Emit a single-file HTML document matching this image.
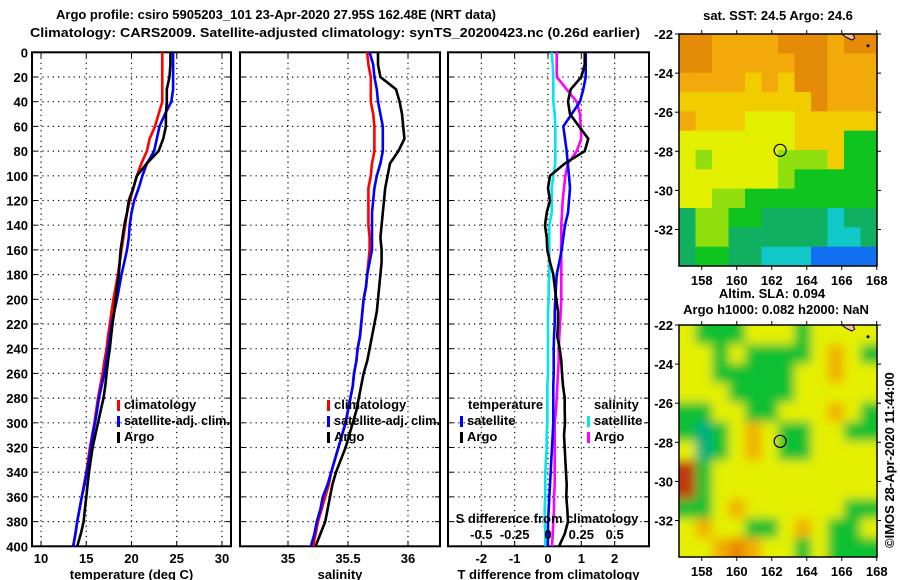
<!DOCTYPE html>
<html><head><meta charset="utf-8"><style>
html,body{margin:0;padding:0;background:#fff;width:900px;height:580px;overflow:hidden}
svg text{font-family:"Liberation Sans",sans-serif;font-weight:bold;font-size:13px;fill:#000}
</style></head><body>
<svg id="chart" width="900" height="580" viewBox="0 0 900 580" xmlns="http://www.w3.org/2000/svg">
<defs>
<filter id="blur" x="0" y="0" width="1" height="1"><feGaussianBlur stdDeviation="5"/></filter>
<clipPath id="clipTop"><rect x="679" y="34" width="198" height="233"/></clipPath>
<clipPath id="clipBot"><rect x="679" y="325" width="198" height="232"/></clipPath>
</defs>
<text x="56" y="19" textLength="440" lengthAdjust="spacingAndGlyphs">Argo profile: csiro 5905203_101 23-Apr-2020 27.95S 162.48E (NRT data)</text>
<text x="30" y="37" textLength="610" lengthAdjust="spacingAndGlyphs">Climatology: CARS2009. Satellite-adjusted climatology: synTS_20200423.nc (0.26d earlier)</text>
<g id="plots"></g>
<g id="maps"></g>
</svg>
<script>
const depths=[0,10,20,30,40,50,60,70,80,90,100,110,120,130,140,150,160,170,180,190,200,210,220,230,240,250,260,270,280,290,300,310,320,330,340,350,360,370,380,390,400];
const tClim=[23.4,23.4,23.4,23.4,23.4,23.0,22.6,22.0,21.7,21.1,20.6,20.2,19.8,19.5,19.3,19.1,18.9,18.7,18.5,18.25,18.0,17.8,17.6,17.4,17.25,17.0,16.8,16.55,16.3,16.1,15.9,15.65,15.4,15.2,15.0,14.75,14.5,14.25,14.0,13.8,13.55];
const tSat=[24.6,24.6,24.6,24.6,24.4,23.7,23.1,22.8,22.5,21.7,21.2,20.8,20.3,20.0,19.8,19.7,19.5,19.2,18.9,18.65,18.4,18.1,17.8,17.6,17.4,17.2,17.0,16.7,16.4,16.2,15.96,15.7,15.5,15.3,15.05,14.8,14.5,14.25,14.0,13.8,13.55];
const tArgo=[24.3,24.3,24.2,23.9,23.9,23.8,23.8,23.5,23.0,21.7,20.6,20.2,19.7,19.5,19.2,19.0,18.8,18.7,18.6,18.4,18.25,18.1,17.9,17.75,17.6,17.4,17.25,17.1,16.9,16.6,16.3,16.0,15.7,15.5,15.3,15.15,15.0,14.85,14.7,14.4,14.0];
const sClim=[35.66,35.67,35.69,35.69,35.69,35.71,35.72,35.72,35.72,35.70,35.69,35.67,35.67,35.67,35.67,35.68,35.68,35.67,35.66,35.65,35.63,35.62,35.61,35.6,35.58,35.57,35.55,35.54,35.52,35.5,35.48,35.45,35.42,35.39,35.36,35.34,35.31,35.28,35.25,35.23,35.21];
const sSat=[35.68,35.71,35.72,35.74,35.75,35.77,35.79,35.79,35.79,35.77,35.74,35.72,35.71,35.70,35.70,35.70,35.70,35.68,35.66,35.65,35.63,35.62,35.61,35.6,35.58,35.57,35.55,35.54,35.52,35.5,35.48,35.45,35.42,35.39,35.36,35.33,35.29,35.27,35.24,35.22,35.19];
const sArgo=[35.75,35.75,35.77,35.9,35.93,35.95,35.96,35.97,35.92,35.85,35.83,35.81,35.80,35.79,35.78,35.77,35.78,35.78,35.77,35.76,35.75,35.74,35.72,35.7,35.68,35.66,35.63,35.61,35.59,35.57,35.54,35.51,35.48,35.44,35.40,35.37,35.35,35.33,35.31,35.27,35.23];
const dTSat=[1.13,1.13,1.13,1.06,0.96,0.71,0.46,0.51,0.56,0.59,0.63,0.66,0.63,0.6,0.51,0.46,0.41,0.34,0.26,0.24,0.22,0.2,0.2,0.18,0.17,0.17,0.17,0.16,0.16,0.16,0.16,0.14,0.12,0.1,0.08,0.06,0.04,0.02,0.0,0.0,-0.005];
const dTArgo=[1.1,1.1,1.0,0.68,0.6,0.66,0.93,1.21,1.1,0.51,0.06,0.0,0.06,-0.04,-0.09,-0.04,-0.02,0.06,0.16,0.2,0.25,0.3,0.3,0.28,0.35,0.4,0.42,0.45,0.5,0.5,0.51,0.48,0.5,0.52,0.54,0.56,0.55,0.58,0.6,0.5,0.33];
const dSSat=[0.028,0.035,0.04,0.04,0.04,0.05,0.055,0.055,0.055,0.055,0.04,0.028,0.028,0.028,0.01,0.01,0.01,0.01,0.01,0.005,0.005,0,0,0,0,0,0,-0.005,-0.005,-0.005,-0.005,-0.01,-0.01,-0.015,-0.02,-0.02,-0.02,-0.025,-0.025,-0.02,-0.02];
const dSArgo=[0.065,0.065,0.066,0.14,0.215,0.24,0.245,0.25,0.215,0.15,0.13,0.12,0.11,0.105,0.1,0.1,0.098,0.1,0.1,0.1,0.1,0.095,0.09,0.085,0.08,0.08,0.075,0.07,0.065,0.06,0.05,0.05,0.05,0.05,0.05,0.05,0.045,0.045,0.04,0.035,0.03];
const depthTicks=[0,20,40,60,80,100,120,140,160,180,200,220,240,260,280,300,320,340,360,380,400];
const tTicks=[10,15,20,25,30];
const sTicks=[35,35.5,36];
const sTickLabels=["35","35.5","36"];
const dtTicks=[-2,-1,0,1,2];
const dsTicks=[-0.5,-0.25,0,0.25,0.5];
const dsTickLabels=["-0.5","-0.25","0","0.25","0.5"];
const latTicks=[-22,-24,-26,-28,-30,-32];
const lonTicks=[158,160,162,164,166,168];
const sstRows=["OOooooOOOoOO","OOoooooOOooo","ooooyoyOOooo","yyyyyyyyOooo","oyyyYYYyyyyy","YYYYYYYyyyGG","YgYYYYgggyGG","YYYYYYgGGGGG","YYggGGGGGGGG","TggGGTTTTCTT","TggTTTTTTCCT","TGGTTCCCBBBB"];
const slaRows=["YGGGYYYGYYYY","YYGYGGGGYoYG","YYGGGGGYYoYY","YYYGGGGYYYYY","GGYYGGYYYoYG","GTGYoYGGYYGG","YTGYoYGGYYYY","RGYYYYYYYYYY","RGYYYYYYYYYY","GGYoYYYYYYGG","YoYYGGYoYGGY","YYoOoYYGYGGG"];

const NS="http://www.w3.org/2000/svg";
function mk(tag,attrs,parent){const e=document.createElementNS(NS,tag);for(const k in attrs)e.setAttribute(k,attrs[k]);parent.appendChild(e);return e;}
const plots=document.getElementById('plots');
const Y0=52.3,Y1=546.3;
const yD=d=>Y0+(Y1-Y0)*d/400;

function panel(name,x0,x1,vmin,vmax,ticks,tickLabels,xTitle){
  const g=mk('g',{},plots);
  
  
  const xs=v=>x0+(x1-x0)*(v-vmin)/(vmax-vmin);
  depthTicks.forEach(d=>{
    if(d>0&&d<400){const l=mk('line',{x1:x0,x2:x1,y1:yD(d),y2:yD(d),stroke:'#000','stroke-width':1.2,'stroke-dasharray':'1.2,4'},g);
    
    }
    mk('line',{x1:x0,x2:x0+5,y1:yD(d),y2:yD(d),stroke:'#000'},g);
    mk('line',{x1:x1,x2:x1-5,y1:yD(d),y2:yD(d),stroke:'#000'},g);
  });
  ticks.forEach((v,i)=>{
    const x=xs(v);
    const l=mk('line',{x1:x,x2:x,y1:Y0,y2:Y1,stroke:'#000','stroke-width':1.2,'stroke-dasharray':'1.2,4'},g);
    
    
    mk('line',{x1:x,x2:x,y1:Y0,y2:Y0+5,stroke:'#000'},g);
    mk('line',{x1:x,x2:x,y1:Y1,y2:Y1-5,stroke:'#000'},g);
    const t=mk('text',{x:x,y:563,'text-anchor':'middle'},g);
    t.textContent=tickLabels[i];
    
    
  });
  const f=mk('rect',{x:x0,y:Y0,width:x1-x0,height:Y1-Y0,fill:'none',stroke:'#000','stroke-width':2},g);
  
  
  const tt=mk('text',{x:(x0+x1)/2,y:579,'text-anchor':'middle'},g);
  tt.textContent=xTitle;
  
  
  return {g,xs};
}
function series(p,vals,color,name){
  const pts=vals.map((v,i)=>p.xs(v).toFixed(1)+','+yD(depths[i]).toFixed(1)).join(' ');
  const l=mk('polyline',{points:pts,fill:'none',stroke:color,'stroke-width':2.6},p.g);
  
  
}
function legendEntry(g,x,y,color,label,name,tl){
  mk('rect',{x:x,y:y-9,width:3,height:11,fill:color},g);
  const a={x:x+7,y:y};
  if(tl){a.textLength=tl;a.lengthAdjust='spacingAndGlyphs';}
  const t=mk('text',a,g);t.textContent=label;
  
  
}

depthTicks.forEach(d=>{
  const t=mk('text',{x:28,y:yD(d)+5,'text-anchor':'end'},plots);
  t.textContent=d;
  
  
});

const p1=panel('temperature-panel',32,231,9,31,tTicks,tTicks.map(String),'temperature (deg C)');
series(p1,tClim,'#ff0000','temp-climatology-line');
series(p1,tSat,'#0000ff','temp-satellite-line');
series(p1,tArgo,'#000000','temp-argo-line');
legendEntry(p1.g,117,409,'#ff0000','climatology','legend-climatology');
legendEntry(p1.g,117,425,'#0000ff','satellite-adj. clim.','legend-satellite',106);
legendEntry(p1.g,117,441,'#000000','Argo','legend-argo');

const p2=panel('salinity-panel',240,440,34.6,36.2667,sTicks,sTickLabels,'salinity');
series(p2,sClim,'#ff0000','sal-climatology-line');
series(p2,sSat,'#0000ff','sal-satellite-line');
series(p2,sArgo,'#000000','sal-argo-line');
legendEntry(p2.g,327,409,'#ff0000','climatology','legend-climatology');
legendEntry(p2.g,327,425,'#0000ff','satellite-adj. clim.','legend-satellite',106);
legendEntry(p2.g,327,441,'#000000','Argo','legend-argo');

const p3=panel('difference-panel',448,649,-3,3.03,dtTicks,dtTicks.map(String),'T difference from climatology');
const p3s={g:p3.g,xs:v=>p3.xs(v*4)};
series(p3s,dSSat,'#00e5ee','sal-diff-satellite-line');
series(p3s,dSArgo,'#ff00ff','sal-diff-argo-line');
series(p3,dTSat,'#0000ff','temp-diff-satellite-line');
series(p3,dTArgo,'#000000','temp-diff-argo-line');
{const t=mk('text',{x:468,y:409},p3.g);t.textContent='temperature';


const s=mk('text',{x:594,y:409},p3.g);s.textContent='salinity';

}
legendEntry(p3.g,460,425,'#0000ff','satellite','legend-temp-satellite');
legendEntry(p3.g,460,441,'#000000','Argo','legend-temp-argo');
legendEntry(p3.g,587,425,'#00e5ee','satellite','legend-sal-satellite');
legendEntry(p3.g,587,441,'#ff00ff','Argo','legend-sal-argo');
{const t=mk('text',{x:547,y:523,'text-anchor':'middle'},p3.g);t.textContent='S difference from climatology';


dsTicks.forEach((v,i)=>{const l=mk('text',{x:p3s.xs(v),y:539,'text-anchor':'middle'},p3.g);l.textContent=dsTickLabels[i];

});}

const maps=document.getElementById('maps');
const colSST={O:'#e48c08',o:'#f2aa0a',y:'#f0cc00',Y:'#e2f000',g:'#90e010',G:'#10c420',T:'#10b060',C:'#10c8c8',B:'#1070f0'};
const colSLA={Y:'#e4f000',G:'#10c030',T:'#00b080',o:'#f2b000',O:'#e88800',R:'#c03808'};
function drawMap(name,y0,rows,cols,blur,clip){
  const g=mk('g',{},maps);
  
  
  const x0=679,w=198,h=232;
  const lonX=lon=>x0+(lon-156.7)*17.5;
  const latY=lat=>y0+(-22-lat)*19.55;
  const inner=mk('g',{'clip-path':'url(#'+clip+')'},g);
  const cells=mk('g',blur?{filter:'url(#blur)'}:{},inner);
  const cw=w/12,ch=h/12;
  const pad=blur?20:0;
  rows.forEach((r,i)=>{for(let j=0;j<r.length;j++){
    let x=x0+j*cw,y=y0+i*ch,ww=cw+0.5,hh=ch+0.5;
    if(j==0){x-=pad;ww+=pad;} if(j==r.length-1){ww+=pad;}
    if(i==0){y-=pad;hh+=pad;} if(i==rows.length-1){hh+=pad;}
    mk('rect',{x:x,y:y,width:ww,height:hh,fill:cols[r[j]]},cells);}});
  mk('path',{d:`M${lonX(166)} ${y0} l4 3 l6 3 l3 -2 l-2 -4 z`,fill:'#f8c0a0',stroke:'#000','stroke-width':1},g);
  mk('circle',{cx:lonX(167.5),cy:latY(-22.6),r:1.5,fill:'#000'},g);
  const m=mk('circle',{cx:lonX(162.48),cy:latY(-27.95),r:6,fill:'none',stroke:'#000','stroke-width':1.2},g);
  
  
  mk('rect',{x:x0,y:y0,width:w,height:h,fill:'none',stroke:'#000','stroke-width':1.5},g);
  latTicks.forEach(l=>{const y=latY(l);mk('line',{x1:x0-4,x2:x0,y1:y,y2:y,stroke:'#000'},g);mk('line',{x1:x0+w,x2:x0+w+4,y1:y,y2:y,stroke:'#000'},g);
    const t=mk('text',{x:673,y:y+5,'text-anchor':'end'},g);t.textContent=l;
    
    });
  lonTicks.forEach(l=>{const x=lonX(l);mk('line',{x1:x,x2:x,y1:y0-4,y2:y0,stroke:'#000'},g);mk('line',{x1:x,x2:x,y1:y0+h,y2:y0+h+4,stroke:'#000'},g);
    const t=mk('text',{x:x,y:y0+h+19,'text-anchor':'middle'},g);t.textContent=l;
    
    });
}
drawMap('sst-map',34,sstRows,colSST,false,'clipTop');
drawMap('sla-map',325,slaRows,colSLA,true,'clipBot');
function label(txt,x,y,name,extra){const a=Object.assign({x:x,y:y,'text-anchor':'middle','font-size':'12'},extra||{});const t=mk('text',a,maps);t.textContent=txt;
  
  }
label('sat. SST: 24.5 Argo: 24.6',778,20,'sst-map-title');
label('Altim. SLA: 0.094',772,298,'sla-map-title');
label('Argo h1000: 0.082 h2000: NaN',776,314,'sla-map-subtitle');
label('©IMOS 28-Apr-2020 11:44:00',0,0,'copyright-label',{'text-anchor':'start',transform:'translate(894,548) rotate(-90)','font-weight':'normal'});
</script>
</body></html>
